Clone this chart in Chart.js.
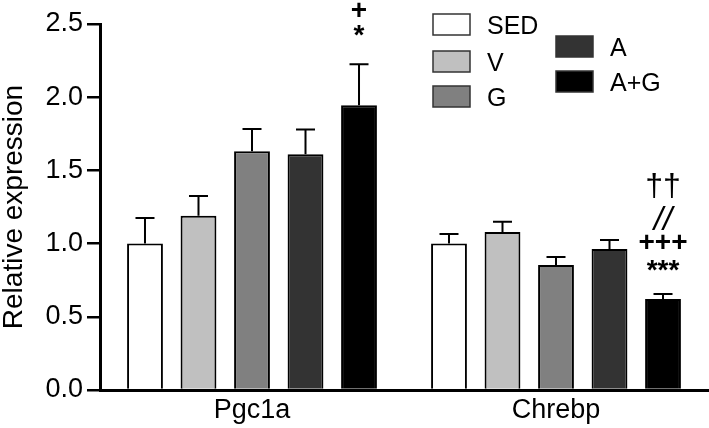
<!DOCTYPE html>
<html>
<head>
<meta charset="UTF-8">
<title>Relative expression</title>
<script src="https://cdn.jsdelivr.net/npm/chart.js"></script>
<style>
  html, body { margin: 0; padding: 0; background: #fff; }
  #wrap { width: 709px; height: 428px; }
</style>
</head>
<body>
<div id="wrap"><canvas id="barChart"></canvas></div>
<script>
// data
const categories = ['Pgc1a', 'Chrebp'];
const groups = ['SED', 'V', 'G', 'A', 'A+G'];
const sedMean = [1.00, 1.00];
const vMean   = [1.19, 1.08];
const gMean   = [1.63, 0.854];
const aMean   = [1.61, 0.963];
const agMean  = [1.945, 0.622];
const sedErr = [0.175, 0.066];
const vErr   = [0.135, 0.069];
const gErr   = [0.153, 0.054];
const aErr   = [0.17, 0.062];
const agErr  = [0.28, 0.034];
// significance marks above the A+G bars (top to bottom)
const agMarks = [['+', '*'], ['††', '//', '+++', '***']];

const fontFam = '"Liberation Sans", Arial, Helvetica, sans-serif';
const fills = ['#ffffff', '#c0c0c0', '#808080', '#333333', '#000000'];
const means = [sedMean, vMean, gMean, aMean, agMean];
const errs = [sedErr, vErr, gErr, aErr, agErr];

const datasets = groups.map(function(g, i){
  return {
    label: g,
    data: means[i],
    err: errs[i],
    backgroundColor: fills[i],
    borderColor: '#000',
    borderWidth: 2,
    borderSkipped: 'start',
    categoryPercentage: 0.88,
    barPercentage: 0.67
  };
});

// font per mark
function markFont(m){
  if (m === '††') return '32px ' + fontFam;
  if (m === '//') return 'italic 33px ' + fontFam;
  return 'bold 28px ' + fontFam;
}

// error bars (upper only) + significance text
const errorBars = {
  id: 'errorBars',
  afterDatasetsDraw(chart){
    const ctx = chart.ctx;
    const y = chart.scales.y;
    ctx.save();
    ctx.strokeStyle = '#000';
    ctx.lineWidth = 2;
    chart.data.datasets.forEach(function(ds, di){
      const meta = chart.getDatasetMeta(di);
      meta.data.forEach(function(bar, i){
        const top = y.getPixelForValue(ds.data[i]);
        const end = y.getPixelForValue(ds.data[i] + ds.err[i]);
        ctx.beginPath();
        ctx.moveTo(bar.x, top);
        ctx.lineTo(bar.x, end);
        ctx.moveTo(bar.x - 9.5, end);
        ctx.lineTo(bar.x + 9.5, end);
        ctx.stroke();
      });
    });

    // marks over A+G
    const last = chart.data.datasets.length - 1;
    const meta = chart.getDatasetMeta(last);
    const ds = chart.data.datasets[last];
    const gaps = [[-55, -34], [-108, -76, -52, -28]];
    ctx.fillStyle = '#000';
    ctx.textAlign = 'center';
    ctx.textBaseline = 'alphabetic';
    agMarks.forEach(function(marks, i){
      const bar = meta.data[i];
      const end = y.getPixelForValue(ds.data[i] + ds.err[i]);
      marks.forEach(function(m, k){
        ctx.font = markFont(m);
        const tm = ctx.measureText(m);
        const cy = end + gaps[i][k];
        ctx.fillText(m, bar.x, cy + (tm.actualBoundingBoxAscent - tm.actualBoundingBoxDescent) / 2);
      });
    });
    ctx.restore();
  }
};

// two-column legend like the original
const sideLegend = {
  id: 'sideLegend',
  afterDraw(chart){
    const ctx = chart.ctx;
    const spots = [
      [433, 14], [433, 51], [433, 86],
      [556, 36], [556, 71]
    ];
    ctx.save();
    ctx.font = '25px ' + fontFam;
    ctx.textAlign = 'left';
    ctx.textBaseline = 'alphabetic';
    chart.data.datasets.forEach(function(ds, i){
      const p = spots[i];
      ctx.fillStyle = ds.backgroundColor;
      ctx.fillRect(p[0], p[1], 37, 21);
      ctx.strokeStyle = '#333';
      ctx.lineWidth = 1.5;
      ctx.strokeRect(p[0], p[1], 37, 21);
      ctx.fillStyle = '#000';
      const tm = ctx.measureText(ds.label);
      ctx.fillText(ds.label, p[0] + 54, p[1] + 10.5 + (tm.actualBoundingBoxAscent - tm.actualBoundingBoxDescent) / 2);
    });
    ctx.restore();
  }
};

new Chart(document.getElementById('barChart').getContext('2d'), {
  type: 'bar',
  data: { labels: categories, datasets: datasets },
  options: {
    responsive: true,
    maintainAspectRatio: false,
    animation: false,
    layout: { padding: { top: 24, right: 1, left: 0, bottom: 0 } },
    plugins: {
      legend: { display: false },
      tooltip: { enabled: false }
    },
    scales: {
      x: {
        grid: { display: false, drawTicks: false },
        border: { display: true, color: '#000', width: 3 },
        ticks: { color: '#000', font: { family: fontFam, size: 27 }, padding: 4 },
        afterFit: function(s){ s.height = 38; }
      },
      y: {
        min: 0,
        max: 2.5,
        ticks: {
          stepSize: 0.5,
          color: '#000',
          padding: 4,
          font: { family: fontFam, size: 27 },
          callback: function(v){ return Number(v).toFixed(1); }
        },
        grid: { drawOnChartArea: false, drawTicks: true, tickLength: 13, color: '#000', lineWidth: 2.5 },
        border: { display: true, color: '#000', width: 3 },
        title: {
          display: true,
          text: 'Relative expression',
          color: '#000',
          font: { family: fontFam, size: 28, lineHeight: 1 },
          padding: { top: 0, bottom: 0 }
        },
        afterFit: function(s){ s.width = 100; }
      }
    }
  },
  plugins: [errorBars, sideLegend]
});
</script>
</body>
</html>
